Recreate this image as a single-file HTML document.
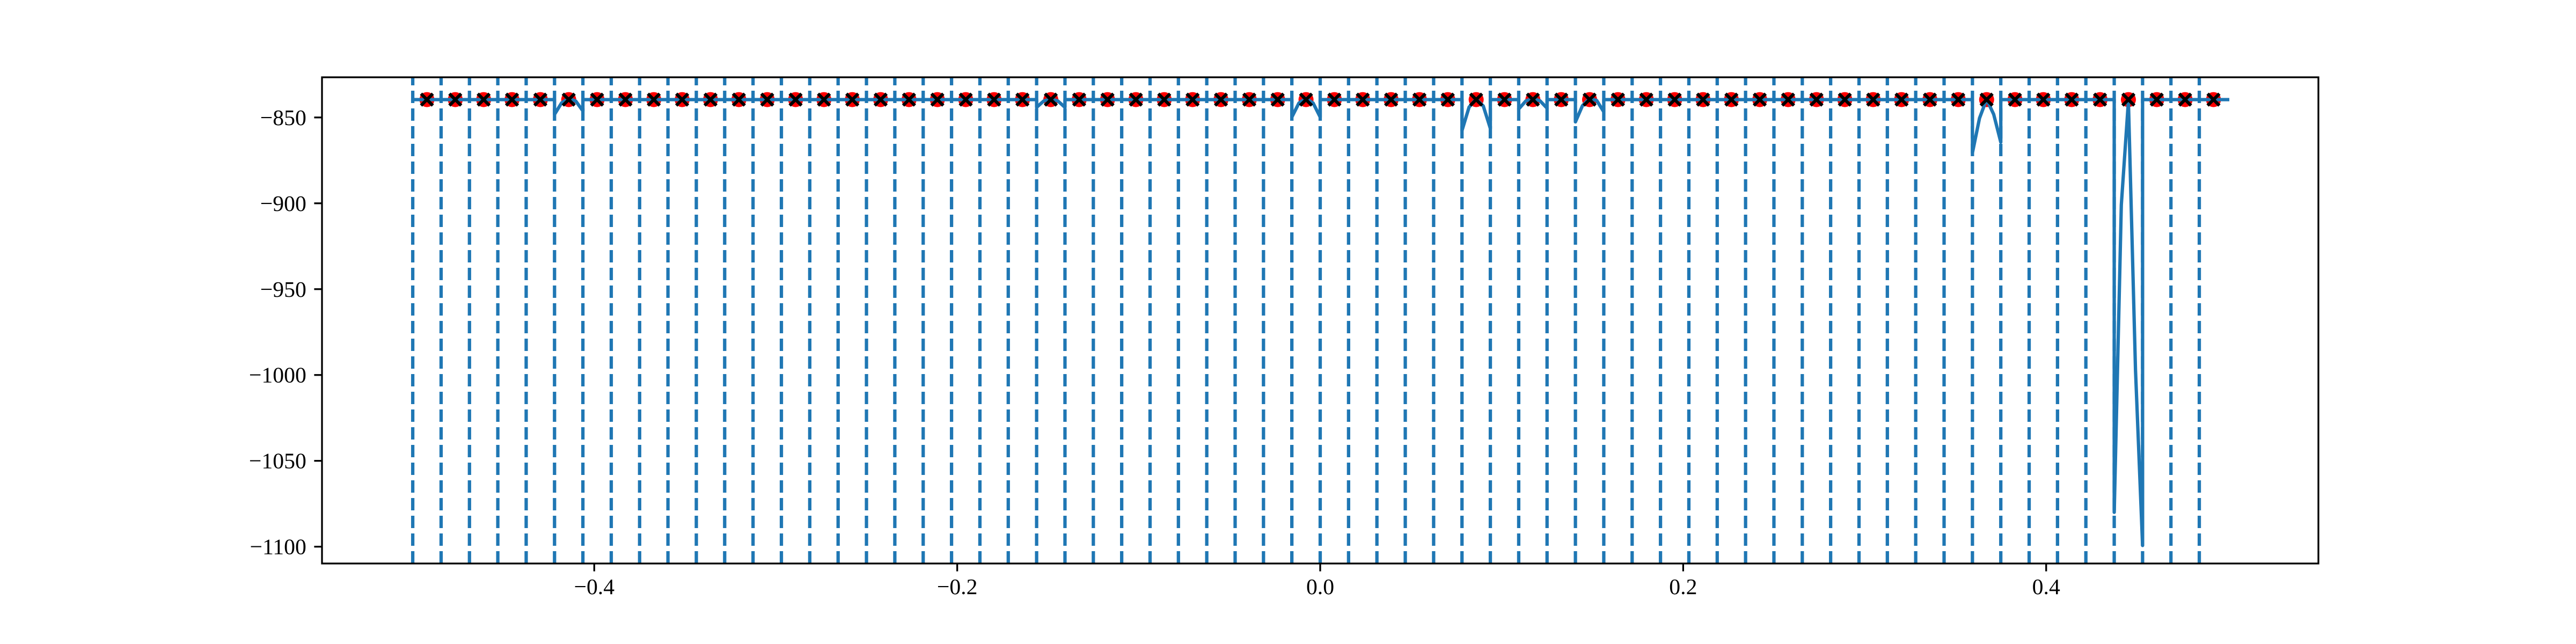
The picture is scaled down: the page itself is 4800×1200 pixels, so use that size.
<!DOCTYPE html>
<html><head><meta charset="utf-8"><style>
html,body{margin:0;padding:0;background:#fff;}
svg{display:block;}
text{font-family:"Liberation Serif","DejaVu Serif",serif;font-size:41.7px;fill:#000;}
</style></head>
<body>
<svg id="chart" width="4800" height="1200" viewBox="0 0 4800 1200" xmlns="http://www.w3.org/2000/svg">
<rect x="0" y="0" width="4800" height="1200" fill="#fff"/>
<g id="vlines"></g>
<g id="markersRed"></g>
<g id="curve"></g>
<g id="markersX"></g>
<g id="axes"></g>
</svg>
<script>
const xTicks = [-0.4, -0.2, 0.0, 0.2, 0.4];
const xTickLabels = ["\u22120.4", "\u22120.2", "0.0", "0.2", "0.4"];
const yTicks = [-850, -900, -950, -1000, -1050, -1100];
const yTickLabels = ["\u2212850", "\u2212900", "\u2212950", "\u22121000", "\u22121050", "\u22121100"];
const nSegments = 64;
const baseline = -839.6;
const markerValue = -839.6;
const dipSegments = [5, 22, 31, 37, 39, 41, 55, 60];
const dipLeft  = [-848.2, -844.1, -849.8, -857.6, -845.1, -852.6, -870.6, -1080];
const dipQ1    = [-841.5, -840.4, -841.6, -844.0, -840.4, -843.1, -850.4, -901];
const dipMid   = [-838.9, -839.2, -838.9, -839.2, -838.9, -838.9, -839.4, -840.4];
const dipQ3    = [-840.5, -840.4, -841.6, -843.3, -840.3, -840.1, -848.2, -997];
const dipRight = [-846.2, -844.1, -849.8, -856.4, -844.6, -846.7, -864.4, -1099.3];

const L=600,R=4320,T=144,B=1050;
const xMin=-0.55,xMax=0.55,yMin=-1109.8,yMax=-826.6;
const sx=v=>L+(v-xMin)/(xMax-xMin)*(R-L);
const sy=v=>B-(v-yMin)/(yMax-yMin)*(B-T);
const NS="http://www.w3.org/2000/svg";
function mk(tag,attrs,parent){const e=document.createElementNS(NS,tag);for(const k in attrs)e.setAttribute(k,attrs[k]);parent.appendChild(e);return e;}
const C="#1f77b4";

// vertical dashed lines
const vg=document.getElementById('vlines');
for(let k=0;k<nSegments;k++){
  const x=sx(-0.5+k/nSegments);
  const l=mk('line',{x1:x,x2:x,y1:B,y2:T,stroke:C,'stroke-width':6.25,'stroke-dasharray':'23 10'},vg);
  
  
}

// curve
const pts=[];
for(let k=0;k<nSegments;k++){
  const x0=-0.5+k/nSegments, w=1/nSegments;
  const di=dipSegments.indexOf(k);
  const vals = di>=0 ? [dipLeft[di],dipQ1[di],dipMid[di],dipQ3[di],dipRight[di]] : [baseline,baseline,baseline,baseline,baseline];
  for(let j=0;j<5;j++) pts.push(sx(x0+w*j/4).toFixed(2)+','+sy(vals[j]).toFixed(2));
}
const cg=document.getElementById('curve');
const pl=mk('polyline',{points:pts.join(' '),fill:'none',stroke:C,'stroke-width':6.25,'stroke-linejoin':'round','stroke-linecap':'square'},cg);



// markers
const rg=document.getElementById('markersRed'), xg=document.getElementById('markersX');
for(let k=0;k<nSegments;k++){
  const cx=sx(-0.5+(k+0.5)/nSegments), cy=sy(markerValue);
  const c=mk('circle',{cx:cx,cy:cy,r:14,fill:'#ff0000'},rg);
  
  
  const p=mk('path',{d:`M${cx-11},${cy-11}L${cx+11},${cy+11}M${cx-11},${cy+11}L${cx+11},${cy-11}`,stroke:'#000','stroke-width':6,fill:'none'},xg);
  
  
}

// axes
const ag=document.getElementById('axes');
const fr=mk('rect',{x:L,y:T,width:R-L,height:B-T,fill:'none',stroke:'#000','stroke-width':3.3},ag);


xTicks.forEach((v,i)=>{
  const x=sx(v);
  const t=mk('line',{x1:x,x2:x,y1:B,y2:B+14.6,stroke:'#000','stroke-width':3.3},ag);
  
  
  const tx=mk('text',{x:x,y:B+14.6+14.6+28,'text-anchor':'middle'},ag);
  tx.textContent=xTickLabels[i];
  
  
});
yTicks.forEach((v,i)=>{
  const y=sy(v);
  const t=mk('line',{x1:L-14.6,x2:L,y1:y,y2:y,stroke:'#000','stroke-width':3.3},ag);
  
  
  const tx=mk('text',{x:L-29.2,y:y+14,'text-anchor':'end'},ag);
  tx.textContent=yTickLabels[i];
  
  
});
</script>
</body></html>
